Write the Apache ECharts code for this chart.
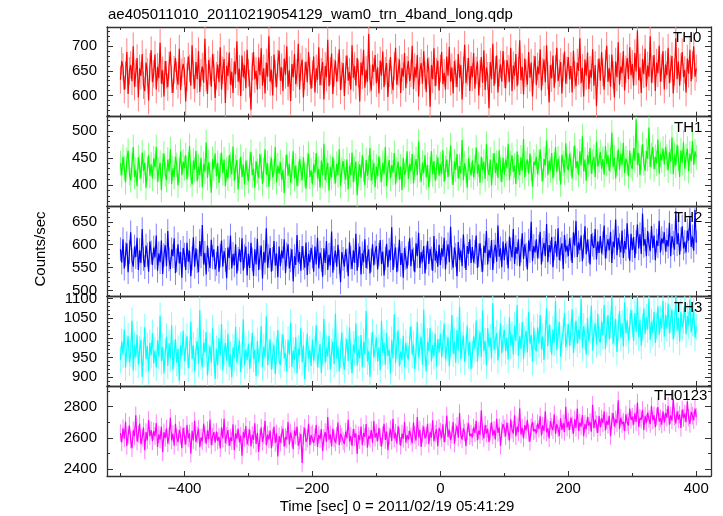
<!DOCTYPE html>
<html><head><meta charset="utf-8">
<script src="https://cdn.jsdelivr.net/npm/echarts@6/dist/echarts.min.js"></script>
<style>html,body{margin:0;padding:0;background:#fff}#c{width:723px;height:516px}</style>
</head><body><div id="c"></div>
<script>
// time bins (sec, relative to 2011/02/19 05:41:29)
const tStart = -500, tStep = 2;

const th0 = [
632,670,658,612,641,688,603,650,662,629,700,618,645,676,596,655,640,684,621,609,667,648,590,658,692,
627,644,683,612,658,635,707,624,651,598,670,642,617,661,689,633,605,652,676,640,622,695,611,647,664,
650,588,637,679,655,620,702,641,614,668,633,690,607,646,659,626,715,636,603,672,649,618,684,657,595,
640,663,627,698,612,651,674,585,660,639,687,622,648,605,669,643,710,628,654,599,681,637,662,615,693,
646,624,571,659,688,633,650,612,677,641,696,620,655,604,667,638,720,628,652,600,683,644,617,665,691,
630,657,609,675,642,700,618,651,589,664,637,684,623,646,705,612,658,673,596,640,669,627,688,650,614,
643,679,606,655,632,698,621,648,668,592,660,637,713,619,650,685,603,646,671,628,657,694,611,640,666,
599,653,681,630,648,612,702,636,660,620,676,645,588,667,641,693,616,652,628,725,634,610,663,648,682,
625,657,604,671,640,689,617,650,666,597,645,678,631,611,660,697,622,648,673,605,656,638,686,615,652,
670,629,645,701,613,658,636,682,598,650,666,624,690,641,607,675,650,577,662,633,696,619,648,671,610,
655,688,623,646,612,679,640,699,628,657,604,670,645,617,684,636,662,592,651,703,625,648,676,609,660,
637,686,614,651,669,600,644,678,626,692,611,657,640,574,668,633,705,620,652,681,606,646,663,628,690,
643,615,672,654,628,697,609,661,640,684,619,650,712,631,658,602,675,645,622,688,636,667,598,653,680,
621,659,643,694,610,648,673,627,702,640,586,662,635,681,616,654,697,629,645,668,604,657,689,624,651,
678,633,660,606,691,642,619,667,650,716,625,656,598,673,640,687,613,652,636,694,620,662,578,646,675,
630,688,647,612,665,701,628,655,618,683,642,596,669,637,708,622,659,645,690,610,653,676,633,698,641,
664,620,686,649,732,631,657,605,674,643,695,618,661,638,720,626,653,682,609,667,645,701,628,656,690,
612,663,641,697,625,654,680,604,648,716,633,669,620,658,688,637,652,606,675,644,693,629,662,700,638,
655];

const th1 = [
440,418,452,431,405,446,463,422,409,437,470,415,428,398,451,433,412,460,426,441,395,430,455,417,438,
412,449,433,470,406,428,441,391,436,458,420,409,447,425,466,402,431,415,452,437,399,427,462,418,443,
431,455,410,438,472,419,401,445,428,463,407,434,418,450,396,439,425,479,413,442,420,386,448,430,458,
416,441,404,436,460,422,447,398,429,412,455,437,420,471,408,433,446,392,426,452,415,438,401,445,423,
407,439,461,418,430,395,444,426,413,457,435,402,428,466,419,440,397,431,450,414,425,470,405,436,421,
442,410,428,385,433,456,417,439,404,425,462,412,436,398,421,448,430,409,451,419,393,437,458,415,427,
401,438,423,459,412,430,395,445,418,476,409,427,441,390,433,414,452,425,403,439,418,466,398,428,444,
425,410,447,392,436,418,460,405,429,443,381,421,438,413,455,428,400,446,417,432,468,408,424,441,396,
434,416,453,427,405,441,420,470,398,431,446,412,437,423,459,401,428,443,410,434,391,450,419,426,462,
411,439,425,457,403,432,448,418,480,427,406,441,422,455,414,437,396,429,462,420,444,408,433,451,417,
438,420,464,406,431,447,415,439,473,424,400,444,428,457,412,435,421,483,409,440,426,395,449,432,418,
445,414,433,469,421,438,404,452,427,443,411,476,430,418,447,399,436,459,422,441,413,464,428,406,450,
419,447,431,476,409,440,455,424,436,402,462,433,418,451,426,485,414,439,447,421,458,430,397,443,437,
452,420,441,466,429,407,448,436,482,418,445,427,459,412,438,470,424,449,431,401,456,440,423,477,435,
427,458,439,412,449,473,431,444,419,462,436,490,425,447,408,455,438,468,421,443,452,415,480,434,446,
461,430,448,419,472,439,455,426,446,497,433,451,412,440,466,428,457,437,478,422,449,441,416,463,436,
430,468,445,521,437,459,418,451,475,440,426,463,448,506,433,455,470,429,452,440,484,421,457,446,467,
438,470,452,427,461,443,488,420,456,436,474,449,415,464,441,479,430,453,467,426,458,444,481,437,462,
451];

const th2 = [
590,561,612,548,579,603,540,584,627,566,552,596,573,615,545,588,560,634,569,551,598,578,541,607,583,
556,594,572,620,543,581,562,609,536,577,599,553,630,568,547,590,575,614,538,566,601,559,584,528,593,
578,545,604,563,587,531,570,616,552,592,564,540,608,575,643,557,582,535,598,567,549,611,573,590,546,
558,597,541,576,609,552,586,567,527,594,571,620,548,580,555,601,537,569,590,562,614,544,575,596,533,
580,549,604,568,532,590,557,613,545,572,598,526,584,561,636,550,575,593,541,569,608,554,581,529,596,
553,587,570,612,538,579,601,548,566,590,520,575,556,621,562,584,543,597,571,550,605,534,580,562,593,
574,541,596,557,615,548,583,567,530,592,560,608,545,578,555,629,539,571,587,552,600,563,518,584,569,
552,590,566,531,605,572,547,588,560,624,543,577,596,535,581,562,612,549,573,590,537,566,601,555,583,
597,546,579,610,558,585,533,570,602,551,589,566,638,545,576,594,540,568,611,556,582,528,593,571,548,
581,614,553,590,568,540,603,575,626,549,584,562,597,537,572,608,558,591,570,543,619,565,586,552,600,
556,592,574,615,546,583,601,562,639,571,550,594,578,531,606,567,588,553,622,575,545,597,580,612,560,
595,561,584,620,549,577,603,566,541,598,582,630,557,589,571,610,545,585,600,563,642,574,592,551,607,
566,603,582,548,618,590,572,634,558,595,580,612,553,587,625,569,601,578,546,609,586,650,564,597,583,
612,570,596,628,557,589,604,575,645,562,599,583,617,551,592,608,574,636,566,590,603,547,621,585,598,
575,614,590,560,627,598,652,573,605,588,620,564,596,640,579,611,586,557,623,600,593,634,568,607,582,
619,581,603,642,570,596,612,588,628,560,607,594,655,577,615,599,583,631,571,608,590,647,596,565,624,
588,617,571,606,644,592,623,580,668,598,612,575,630,601,586,641,593,620,566,609,597,652,583,614,603,
627,585,610,596,648,575,619,604,589,673,601,625,578,612,640,592,606,583,631,609,662,595,618,587,676,
605];

const th3 = [
944,990,958,1021,925,973,1004,938,961,1043,917,982,951,1008,932,970,995,901,963,1027,946,979,915,987,956,
1012,936,968,925,994,952,1056,941,977,910,965,1003,929,986,948,1032,919,960,997,937,972,891,981,955,1018,
940,975,1004,923,958,1041,946,981,915,967,992,934,1070,952,926,988,963,1015,905,950,979,937,1024,961,896,
972,931,999,955,1035,918,964,987,942,1010,927,958,900,976,949,1028,937,966,993,913,958,1047,930,971,944,
985,921,957,1013,946,970,903,992,938,961,1030,925,977,950,1054,931,963,996,919,955,983,908,968,1020,942,
931,976,1009,948,962,915,995,957,1038,926,968,944,1002,910,973,955,1025,938,981,896,960,1011,947,970,929,
996,942,971,1032,925,958,984,911,966,1048,937,975,952,1005,920,963,990,933,1061,947,978,915,959,1014,941,
919,968,997,941,1027,955,910,983,962,1036,930,971,948,1007,925,989,958,1068,940,966,901,979,1015,950,973,
1001,940,976,918,1043,962,988,931,1012,954,970,909,995,948,1060,937,981,1019,928,965,944,1005,926,987,958,
945,994,1029,957,983,921,968,1040,950,978,1003,932,1071,961,915,990,966,1025,940,982,953,1011,927,997,963,
1010,951,987,1036,946,973,1002,928,984,1058,960,991,937,1019,968,1079,945,982,1006,939,976,1031,955,990,921,
958,1003,972,1044,940,987,1015,951,1070,966,992,930,1025,977,1001,948,1088,969,994,1012,943,985,1037,961,998,
1020,966,1001,945,1052,980,1009,958,1031,992,1083,954,1004,972,1040,947,996,1018,963,1066,985,1007,939,1026,975,
966,1027,985,1058,971,1003,944,1012,1075,979,1034,998,957,1021,988,1093,969,1008,1040,952,996,1017,1062,976,1001,
1035,980,1014,1072,961,1006,1043,985,1021,996,1098,974,1029,1003,958,1050,990,1019,1081,968,1012,1037,983,1061,995,
988,1041,1006,1084,972,1020,1058,996,1033,1102,985,1015,1047,964,1026,1068,1001,1037,979,1090,1012,1044,993,1029,1071,
1036,992,1063,1015,1104,1001,1045,980,1027,1074,1009,1052,1021,1099,995,1040,1012,1066,987,1031,1080,1008,1049,1024,1093,
1003,1058,1024,1087,1011,1046,1072,996,1035,1105,1018,1050,990,1066,1027,1043,1082,1009,1055,1031,1097,1014,1038,1070,1000,
1028];

const th0123 = [
2631,2570,2662,2595,2704,2548,2617,2680,2588,2533,2649,2610,2745,2576,2624,2692,2559,2601,2668,2520,2637,2584,2715,2611,2650,
2578,2644,2610,2695,2541,2622,2589,2673,2507,2636,2598,2661,2564,2611,2729,2583,2627,2549,2690,2604,2572,2651,2618,2534,2665,
2612,2557,2683,2596,2629,2498,2645,2584,2710,2573,2619,2660,2540,2603,2577,2691,2621,2562,2649,2591,2718,2553,2608,2637,2569,
2640,2581,2606,2532,2668,2597,2723,2566,2613,2650,2549,2602,2579,2687,2520,2628,2595,2659,2571,2614,2486,2639,2600,2675,2558,
2603,2653,2545,2619,2587,2694,2561,2632,2510,2598,2666,2574,2615,2709,2552,2621,2590,2646,2533,2604,2672,2567,2629,2481,2611,
2570,2621,2659,2543,2605,2589,2702,2558,2634,2595,2527,2648,2612,2672,2549,2580,2625,2438,2614,2665,2573,2596,2691,2552,2618,
2629,2567,2604,2683,2541,2619,2592,2656,2515,2601,2637,2574,2733,2588,2623,2545,2660,2596,2570,2614,2698,2553,2627,2608,2579,
2561,2640,2598,2716,2575,2613,2548,2657,2602,2629,2496,2618,2585,2672,2553,2631,2606,2689,2537,2612,2594,2650,2567,2708,2601,
2632,2578,2665,2603,2544,2619,2690,2586,2641,2521,2612,2657,2580,2723,2596,2633,2562,2675,2609,2549,2628,2593,2701,2570,2618,
2589,2647,2611,2566,2698,2620,2583,2734,2604,2651,2542,2626,2673,2597,2615,2690,2560,2638,2601,2712,2579,2627,2655,2546,2664,
2640,2598,2687,2572,2629,2744,2606,2653,2585,2620,2701,2563,2636,2678,2601,2759,2617,2589,2662,2634,2548,2645,2693,2610,2627,
2602,2668,2631,2710,2585,2647,2619,2775,2640,2596,2684,2627,2658,2573,2639,2702,2614,2651,2590,2723,2632,2667,2548,2644,2688,
2661,2609,2698,2640,2583,2719,2652,2627,2745,2610,2673,2636,2790,2621,2664,2597,2682,2648,2715,2630,2575,2669,2702,2641,2656,
2628,2693,2657,2738,2616,2680,2645,2770,2634,2662,2597,2708,2671,2649,2751,2625,2688,2660,2613,2726,2651,2694,2637,2799,2667,
2704,2651,2730,2683,2626,2719,2664,2789,2645,2698,2672,2747,2610,2690,2656,2735,2679,2702,2640,2812,2663,2716,2688,2631,2742,
2667,2725,2694,2770,2648,2711,2683,2742,2611,2706,2760,2673,2719,2695,2842,2657,2730,2688,2704,2644,2751,2700,2678,2788,2715,
2736,2684,2758,2702,2827,2671,2729,2716,2780,2650,2741,2695,2762,2721,2688,2806,2713,2745,2669,2738,2797,2704,2726,2685,2770,
2698,2761,2729,2805,2684,2744,2712,2853,2736,2693,2771,2718,2749,2664,2782,2727,2756,2701,2834,2730,2689,2767,2742,2713,2788,
2735];

// 1-sigma error bar half widths (counts/sec) per band
const errTH = [28, 23, 26, 34, 56];
const bandNames = ['TH0', 'TH1', 'TH2', 'TH3', 'TH0123'];
const bandValues = [th0, th1, th2, th3, th0123];

// tick labels
const xMajorTicks = [-400, -200, 0, 200, 400];
const xMinorTicks = [-500, -300, -100, 100, 300];
const yMajorTicks = [[600, 650, 700], [400, 450, 500], [500, 550, 600, 650], [900, 950, 1000, 1050, 1100], [2400, 2600, 2800]];
const yMinorStep = [10, 10, 10, 10, 100];

// layout / style
const FONT = '"Liberation Sans", Arial, Helvetica, sans-serif';
const xRange = [-521, 423];
const yRanges = [[557, 739], [360, 526], [488, 683], [878, 1106], [2355, 2933]];
const gridTops = [27, 116.7, 206.7, 296, 386];
const gridBottom = 476;
const colors = ['#ff0000', '#00ff00', '#0000ff', '#00ffff', '#ff00ff'];
const lightColors = ['#ff8080', '#80ff80', '#8080ff', '#80ffff', '#ff80ff'];
const labelPos = [[673, 37.5], [674, 127.5], [674, 217.5], [674, 307.5], [654, 396]];
const frame = '#333';

const grids = [], xAxes = [], yAxes = [], series = [], graphics = [];
const minus = v => String(v).replace('-', '\u2212');
const plain = v => String(v);

for (let i = 0; i < 5; i++) {
  const top = gridTops[i];
  const bottom = i < 4 ? gridTops[i + 1] : gridBottom;
  grids.push({left: 107, width: 604, top: top, height: bottom - top});
  const yr = yRanges[i];
  const minors = [];
  for (let v = Math.ceil(yr[0] / yMinorStep[i]) * yMinorStep[i]; v <= yr[1]; v += yMinorStep[i]) {
    if (yMajorTicks[i].indexOf(v) < 0) minors.push(v);
  }
  [['bottom', xMajorTicks, 5, true], ['bottom', xMinorTicks, 3, false], ['top', xMajorTicks, 5, true], ['top', xMinorTicks, 3, false]].forEach(([pos, vals, len, line], k) => {
    xAxes.push({
      gridIndex: i, type: 'value', min: xRange[0], max: xRange[1], position: pos,
      axisLine: {show: line, onZero: false, lineStyle: {color: frame, width: 1.3}},
      axisTick: {show: true, inside: true, length: len, customValues: vals, lineStyle: {color: frame, width: 1}},
      axisLabel: (i === 4 && k === 0) ? {show: true, customValues: xMajorTicks, formatter: minus, fontSize: 15, fontFamily: FONT, color: '#000', margin: 5} : {show: false},
      splitLine: {show: false}
    });
  });
  [['left', yMajorTicks[i], 6, true], ['left', minors, 3, false], ['right', yMajorTicks[i], 6, true], ['right', minors, 3, false]].forEach(([pos, vals, len, line], k) => {
    yAxes.push({
      gridIndex: i, type: 'value', min: yr[0], max: yr[1], position: pos,
      axisLine: {show: line, onZero: false, lineStyle: {color: frame, width: 1.3}},
      axisTick: {show: true, inside: true, length: len, customValues: vals, lineStyle: {color: frame, width: 1}},
      axisLabel: k === 0 ? {show: true, customValues: yMajorTicks[i], formatter: plain, fontSize: 15, fontFamily: FONT, color: '#000', margin: 10} : {show: false},
      splitLine: {show: false}
    });
  });
  const data = bandValues[i].map((v, k) => [tStart + k * tStep, v]);
  const e = errTH[i], lc = lightColors[i];
  series.push({
    type: 'custom', xAxisIndex: i * 4, yAxisIndex: i * 4, data: data, z: 1,
    renderItem: (params, api) => {
      const t = api.value(0), v = api.value(1);
      const lo = Math.max(v - e, yr[0]), hi = Math.min(v + e, yr[1]);
      const p1 = api.coord([t, lo]), p2 = api.coord([t, hi]);
      return {type: 'line', shape: {x1: p1[0], y1: p1[1], x2: p2[0], y2: p2[1]}, style: {stroke: lc, lineWidth: 1}};
    }
  });
  series.push({
    type: 'line', xAxisIndex: i * 4, yAxisIndex: i * 4, data: data, z: 2,
    symbol: 'none', lineStyle: {color: colors[i], width: 1.2}, itemStyle: {color: colors[i]}, clip: true
  });
  graphics.push({
    type: 'text', x: labelPos[i][0], y: labelPos[i][1], z: 100,
    style: {text: bandNames[i], font: '15px ' + FONT, fill: '#000', align: 'left', verticalAlign: 'middle', textAlign: 'left', textVerticalAlign: 'middle'}
  });
}

graphics.push({
  type: 'text', x: 108, y: 15, z: 100,
  style: {text: 'ae405011010_20110219054129_wam0_trn_4band_long.qdp', font: '15px ' + FONT, fill: '#000', align: 'left', verticalAlign: 'middle', textAlign: 'left', textVerticalAlign: 'middle'}
});
graphics.push({
  type: 'text', x: 41, y: 249, rotation: Math.PI / 2, z: 100,
  style: {text: 'Counts/sec', font: '15px ' + FONT, fill: '#000', align: 'center', verticalAlign: 'middle', textAlign: 'center', textVerticalAlign: 'middle'}
});
graphics.push({
  type: 'text', x: 397, y: 507, z: 100,
  style: {text: 'Time [sec] 0 = 2011/02/19 05:41:29', font: '15px ' + FONT, fill: '#000', align: 'center', verticalAlign: 'middle', textAlign: 'center', textVerticalAlign: 'middle'}
});

const chart = echarts.init(document.getElementById('c'), null, {renderer: 'canvas'});
chart.setOption({
  animation: false,
  backgroundColor: '#fff',
  grid: grids, xAxis: xAxes, yAxis: yAxes, series: series, graphic: graphics
});
</script>
</body></html>
